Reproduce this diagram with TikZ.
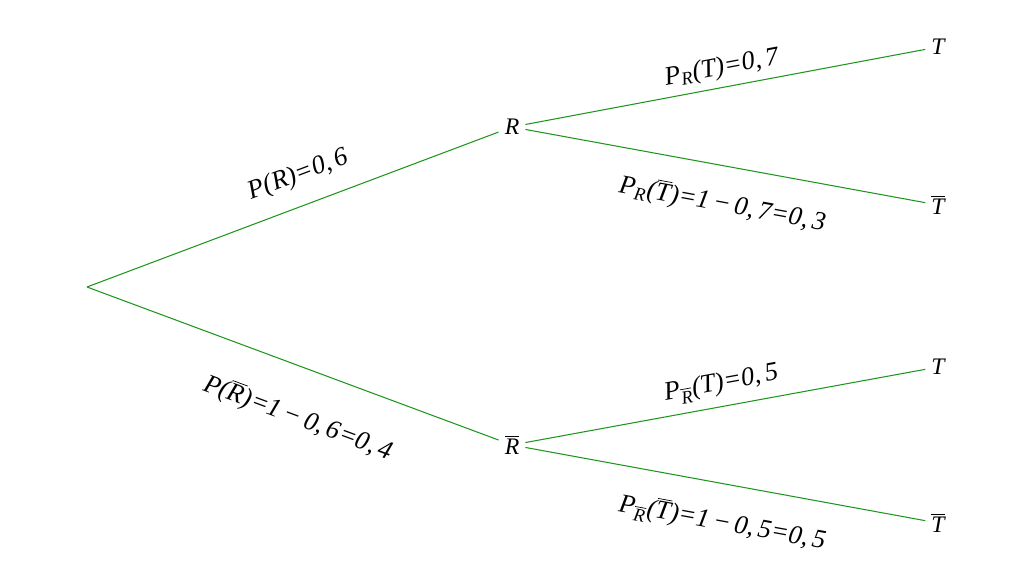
\documentclass[tikz,border=0pt]{standalone}
\usepackage{fontspec}
\setmainfont{Liberation Serif}
\usetikzlibrary{positioning}

\definecolor{branchgreen}{RGB}{30,150,30}
\newcommand{\ovl}[1]{$\overline{\hbox{\itshape #1}}$}
\newcommand{\sbs}[1]{\textsubscript{#1}}
\newcommand{\mns}{\kern.15em−\kern.15em}

\begin{document}
\begin{tikzpicture}[x=0.02cm, y=0.02cm,
        branch/.style={draw=branchgreen, line width=0.6pt},
        event/.style={font=\fontsize{13.5}{15}\selectfont\itshape},
        prob/.style={font=\fontsize{15}{17}\selectfont\itshape, sloped, inner sep=0pt}]

    \useasboundingbox (0,0) rectangle (1024,575);

    % events
    \coordinate (root) at (87,288);
    \node[event] (R) at (512,448) {R};
    \node[event] (Rb) at (512,130) {\ovl{R}};
    \node[event] (RT) at (938,528) {T};
    \node[event] (RTb) at (938,370) {\ovl{T}};
    \node[event] (RbT) at (938,208) {T};
    \node[event] (RbTb) at (938,52) {\ovl{T}};

    % branches
    \draw[branch] (root) -- node[prob, pos=.54, yshift=.6cm] {P(R)=0,\,6} (R);
    \draw[branch] (root) -- node[prob, pos=.555, yshift=-.98cm] {P(\ovl{R})=1\mns0,\,6=0,\,4} (Rb);
    \draw[branch] (R) -- node[prob, yshift=.38cm] {P\sbs{R}(T)=0,\,7} (RT);
    \draw[branch] (R) -- node[prob, pos=.51, yshift=-.76cm] {P\sbs{R}(\ovl{T})=1\mns0,\,7=0,\,3} (RTb);
    \draw[branch] (Rb) -- node[prob, yshift=.44cm] {P\sbs{\ovl{R}}(T)=0,\,5} (RbT);
    \draw[branch] (Rb) -- node[prob, pos=.51, yshift=-.78cm] {P\sbs{\ovl{R}}(\ovl{T})=1\mns0,\,5=0,\,5} (RbTb);
\end{tikzpicture}
\end{document}
